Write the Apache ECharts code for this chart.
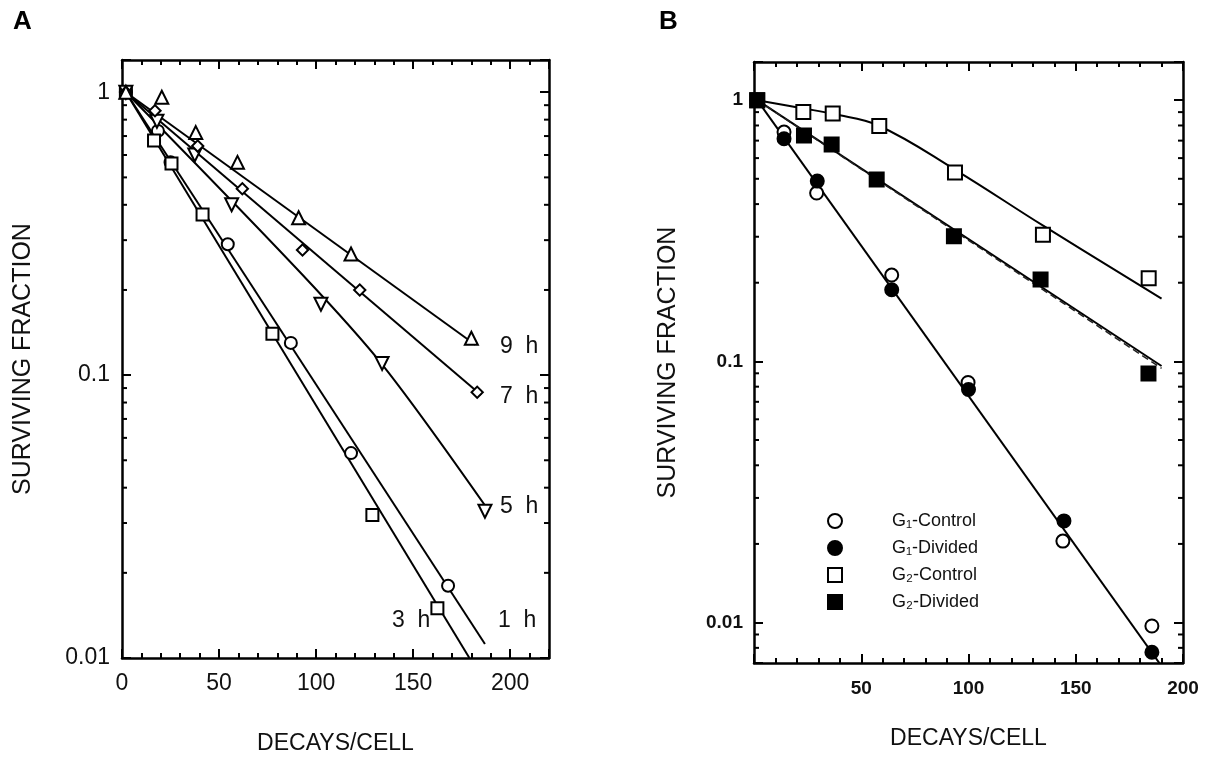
<!DOCTYPE html>
<html>
<head>
<meta charset="utf-8">
<script src="https://cdn.jsdelivr.net/npm/echarts@6/dist/echarts.min.js"></script>
<style>
  html, body { margin: 0; background: #fff; }
  #chart { width: 1208px; height: 764px; }
</style>
</head>
<body>
<div id="chart"></div>
<script>
// ---- panel A : survival after different intervals (decays/cell, surviving fraction)
const a1h = [[2, 1.0], [18.5, 0.73], [25, 0.565], [54.5, 0.29], [87, 0.13], [118, 0.053], [168, 0.018]];
const a3h = [[2, 1.0], [16.5, 0.675], [25.5, 0.56], [41.5, 0.37], [77.5, 0.14], [129, 0.032], [162.5, 0.015]];
const a5h = [[2, 1.0], [18, 0.79], [37.5, 0.6], [56.5, 0.4], [102.5, 0.178], [134, 0.11], [187, 0.033]];
const a7h = [[2, 1.0], [17, 0.86], [39, 0.645], [62, 0.456], [93, 0.277], [122.5, 0.2], [183, 0.087]];
const a9h = [[2, 1.0], [20.5, 0.96], [38, 0.72], [59.5, 0.565], [91, 0.36], [118, 0.268], [180, 0.135]];
// fitted lines, points
const fitA1h = [[2, 1.0], [187, 0.0112]];
const fitA3h = [[2, 1.0], [179, 0.01]];
const fitA5h = [[2, 1.0], [92, 0.23], [135, 0.107], [188.5, 0.0335]];
const fitA7h = [[2, 1.0], [185, 0.085]];
const fitA9h = [[2, 1.0], [182, 0.128]];
const hourLabels = ['9 h', '7 h', '5 h', '3 h', '1 h'];

// ---- panel B : G1 / G2 cells
const bG1c = [[1.5, 1.0], [14, 0.755], [29.2, 0.441], [64.2, 0.214], [99.8, 0.083], [144, 0.0205], [185.5, 0.0097]];
const bG1d = [[1.5, 1.0], [14, 0.712], [29.5, 0.49], [64.2, 0.188], [100, 0.078], [144.5, 0.0245], [185.5, 0.0077]];
const bG2c = [[1.5, 1.0], [23, 0.90], [36.7, 0.89], [58.4, 0.797], [93.7, 0.528], [134.7, 0.305], [184, 0.208]];
const bG2d = [[1.5, 1.0], [23.3, 0.733], [36.2, 0.677], [57.2, 0.497], [93.2, 0.301], [133.6, 0.206], [183.9, 0.0898]];
const fitG1 = [[1.5, 1.0], [189.5, 0.0069]];
const fitG2c = [[1.5, 1.0], [23, 0.93], [37, 0.885], [58, 0.8], [94, 0.54], [135, 0.33], [190, 0.174]];
const fitG2d = [[1.5, 1.0], [190, 0.096]];
const fitG2dDash = [[1.5, 1.0], [190, 0.094]];
const legendNames = ['G\u2081-Control', 'G\u2081-Divided', 'G\u2082-Control', 'G\u2082-Divided'];

// log minor ticks (2..9 of each decade)
const minorTicksA = [0.02, 0.03, 0.04, 0.05, 0.06, 0.07, 0.08, 0.09, 0.2, 0.3, 0.4, 0.5, 0.6, 0.7, 0.8, 0.9];
const minorTicksB = [0.008, 0.009, 0.02, 0.03, 0.04, 0.05, 0.06, 0.07, 0.08, 0.09, 0.2, 0.3, 0.4, 0.5, 0.6, 0.7, 0.8, 0.9];

const FONT = '"Liberation Sans", Arial, sans-serif';
const BLACK = '#000';

function logLabel(v) {
  const e = Math.log10(v);
  return Math.abs(e - Math.round(e)) < 1e-6 ? String(+v.toPrecision(3)) : '';
}

function xAxes(grid, max, label, name, nameGap) {
  const base = {
    type: 'value', gridIndex: grid, min: 0, max: max, interval: 50,
    axisLine: { onZero: false, lineStyle: { color: BLACK, width: 2.5 } },
    axisTick: { inside: true, length: 9, lineStyle: { color: BLACK, width: 2 } },
    minorTick: { show: true, splitNumber: 5, length: 5, lineStyle: { color: BLACK, width: 2 } },
    splitLine: { show: false }
  };
  return [
    Object.assign({}, base, {
      position: 'bottom',
      name: name, nameLocation: 'middle', nameGap: nameGap,
      nameTextStyle: { fontFamily: FONT, fontSize: 23, color: '#111' },
      axisLabel: Object.assign({ show: true, fontFamily: FONT, color: '#111' }, label)
    }),
    Object.assign({}, base, { position: 'top', axisLabel: { show: false } })
  ];
}

function yAxes(grid, min, max, label, name, nameGap) {
  const base = {
    type: 'log', logBase: 10, gridIndex: grid, min: min, max: max,
    axisLine: { onZero: false, lineStyle: { color: BLACK, width: 2.5 } },
    axisTick: { inside: true, length: 9, lineStyle: { color: BLACK, width: 2 } },
    splitLine: { show: false }
  };
  return [
    Object.assign({}, base, {
      position: 'left',
      name: name, nameLocation: 'middle', nameGap: nameGap,
      nameTextStyle: { fontFamily: FONT, fontSize: 25, color: '#111' },
      axisLabel: Object.assign({ formatter: logLabel, fontFamily: FONT, color: '#111' }, label)
    }),
    Object.assign({}, base, { position: 'right', axisLabel: { show: false } })
  ];
}

function minorTickSeries(xIdx, yIdx, values) {
  return {
    type: 'custom', xAxisIndex: xIdx, yAxisIndex: yIdx, silent: true, clip: false, z: 5,
    data: values.map(v => [0, v]),
    renderItem: function (params, api) {
      const cs = params.coordSys;
      const y = api.coord([0, api.value(1)])[1];
      const style = { stroke: BLACK, lineWidth: 2 };
      return { type: 'group', children: [
        { type: 'line', shape: { x1: cs.x, y1: y, x2: cs.x + 5, y2: y }, style: style },
        { type: 'line', shape: { x1: cs.x + cs.width - 5, y1: y, x2: cs.x + cs.width, y2: y }, style: style }
      ] };
    }
  };
}

function fit(xIdx, yIdx, data, opts) {
  return Object.assign({
    type: 'line', xAxisIndex: xIdx, yAxisIndex: yIdx, data: data,
    showSymbol: false, silent: true, z: 3,
    lineStyle: { color: BLACK, width: 2 }
  }, opts || {});
}

function marks(xIdx, yIdx, name, data, symbol, size, filled, rotate) {
  return {
    type: 'scatter', name: name, xAxisIndex: xIdx, yAxisIndex: yIdx, data: data,
    symbol: symbol, symbolSize: size, symbolRotate: rotate || 0, z: 4,
    itemStyle: { color: filled ? BLACK : '#fff', borderColor: BLACK, borderWidth: 2, opacity: 1 }
  };
}

const xa = xAxes(0, 220, { fontSize: 23, margin: 14, showMaxLabel: false }, 'DECAYS/CELL', 74);
const xb = xAxes(1, 200, { fontSize: 19, fontWeight: 'bold', margin: 16, showMinLabel: false, showMaxLabel: true }, 'DECAYS/CELL', 64);
const ya = yAxes(0, 0.01, 1.3, { fontSize: 23, margin: 12 }, 'SURVIVING FRACTION', 86);
const yb = yAxes(1, 0.007, 1.4, { fontSize: 19, fontWeight: 'bold', margin: 11 }, 'SURVIVING FRACTION', 73);

const hourPos = [[500, 335], [500, 385], [500, 495], [392, 609], [498, 609]];

const option = {
  backgroundColor: '#fff',
  animation: false,
  grid: [
    { left: 122, top: 60, width: 427, height: 598, containLabel: false, outerBoundsMode: 'none' },
    { left: 754, top: 62, width: 429, height: 601, containLabel: false, outerBoundsMode: 'none' }
  ],
  xAxis: [xa[0], xa[1], xb[0], xb[1]],
  yAxis: [ya[0], ya[1], yb[0], yb[1]],
  legend: {
    show: true, orient: 'vertical', left: 822, top: 507,
    itemWidth: 14, itemHeight: 14, itemGap: 9,
    data: legendNames,
    formatter: name => '{gap|}' + name,
    textStyle: { fontFamily: FONT, fontSize: 18, color: '#111', rich: { gap: { width: 45 } } }
  },
  graphic: [
    { type: 'text', left: 13, top: 9, style: { text: 'A', font: 'bold 26px ' + FONT, fill: BLACK } },
    { type: 'text', left: 659, top: 9, style: { text: 'B', font: 'bold 26px ' + FONT, fill: BLACK } }
  ].concat(hourLabels.map((t, i) => ({
    type: 'text', left: hourPos[i][0], top: hourPos[i][1],
    style: { text: t.replace(' ', '  '), font: '23px ' + FONT, fill: '#111' }
  }))),
  series: [
    minorTickSeries(0, 0, minorTicksA),
    minorTickSeries(2, 2, minorTicksB),
    fit(0, 0, fitA1h), fit(0, 0, fitA3h), fit(0, 0, fitA5h, { smooth: 0.3 }), fit(0, 0, fitA7h), fit(0, 0, fitA9h),
    marks(0, 0, '1 h', a1h, 'circle', 12, false),
    marks(0, 0, '3 h', a3h, 'rect', 12, false),
    marks(0, 0, '5 h', a5h, 'triangle', 13, false, 180),
    marks(0, 0, '7 h', a7h, 'rect', 8, false, 45),
    marks(0, 0, '9 h', a9h, 'triangle', 13, false),
    fit(2, 2, fitG1),
    fit(2, 2, fitG2c, { smooth: 0.4 }),
    fit(2, 2, fitG2d),
    fit(2, 2, fitG2dDash, { lineStyle: { color: '#222', width: 1.5, type: [7, 4] } }),
    marks(2, 2, legendNames[0], bG1c, 'circle', 13, false),
    marks(2, 2, legendNames[1], bG1d, 'circle', 13, true),
    marks(2, 2, legendNames[2], bG2c, 'rect', 14, false),
    marks(2, 2, legendNames[3], bG2d, 'rect', 14, true)
  ]
};

const chart = echarts.init(document.getElementById('chart'));
chart.setOption(option);
</script>
</body>
</html>
